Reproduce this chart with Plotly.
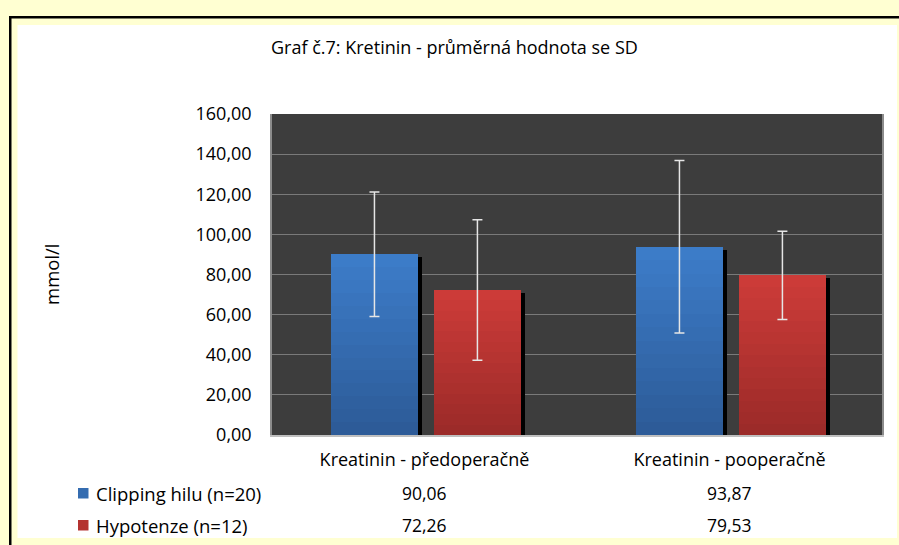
import plotly.graph_objects as go

# ---- data ----
categories = ["Kreatinin - předoperačně", "Kreatinin - pooperačně"]
series_names = ["Clipping hilu (n=20)", "Hypotenze (n=12)"]
clipping_mean = [90.06, 93.87]
clipping_sd = [31.0, 43.0]
hypotenze_mean = [72.26, 79.53]
hypotenze_sd = [35.0, 22.0]
y_ticks = [0, 20, 40, 60, 80, 100, 120, 140, 160]
title_text = "Graf č.7: Kretinin - průměrná hodnota se SD"
y_title = "mmol/l"

# ---- style ----
W, H = 899, 545
L, R, T, B = 272, 882, 114, 435   # plot area in pixels
FONT = "Open Sans"
blue_top, blue_bot = (61, 125, 202), (44, 90, 150)
red_top, red_bot = (206, 60, 57), (154, 42, 40)
BAR_W = 0.285
OFFS = [-0.3066, 0.031]
SHADOW_DX = 0.013
N_BANDS = 14


def px(x):
    return (x - L) / (R - L)


def py(y):
    return (B - y) / (B - T)


def mix(c1, c2, t):
    return "rgb(%d,%d,%d)" % tuple(round(a + (b - a) * t) for a, b in zip(c1, c2))


def fmt(v):
    return ("%.2f" % v).replace(".", ",")


fig = go.Figure()

series = [
    (clipping_mean, clipping_sd, blue_top, blue_bot),
    (hypotenze_mean, hypotenze_sd, red_top, red_bot),
]

for i, (means, sds, ctop, cbot) in enumerate(series):
    # shadow
    fig.add_trace(go.Bar(
        x=categories, y=[m - 1.5 for m in means], width=BAR_W,
        offset=OFFS[i] + SHADOW_DX, marker=dict(color="black", line=dict(width=0)),
        showlegend=False, hoverinfo="skip"))
    # gradient bands
    for k in range(N_BANDS):
        t = (k + 0.5) / N_BANDS
        base = [m * k / N_BANDS for m in means]
        h = [m / N_BANDS for m in means]
        fig.add_trace(go.Bar(
            x=categories, y=h, base=base, width=BAR_W, offset=OFFS[i],
            marker=dict(color=mix(cbot, ctop, t), line=dict(width=0)),
            showlegend=False, hoverinfo="skip"))

# error bars on a numeric overlaying axis for exact positioning
for i, (means, sds, ctop, cbot) in enumerate(series):
    xs = [j + OFFS[i] + BAR_W / 2 for j in range(len(categories))]
    fig.add_trace(go.Scatter(
        x=xs, y=means, mode="markers", xaxis="x2",
        marker=dict(size=1, color="rgba(0,0,0,0)"),
        error_y=dict(type="data", array=sds, visible=True, color="#E6E6E6",
                     thickness=1.5, width=5),
        showlegend=False, hoverinfo="skip"))

shapes = [
    # black frame (top & left)
    dict(type="rect", xref="paper", yref="paper", x0=px(9), x1=px(905), y0=py(16), y1=py(560),
         fillcolor="black", line=dict(width=0), layer="below"),
    dict(type="rect", xref="paper", yref="paper", x0=px(11.5), x1=px(905), y0=py(18.5), y1=py(560),
         fillcolor="#FFFFD2", line=dict(width=0), layer="below"),
    # white panel
    dict(type="rect", xref="paper", yref="paper", x0=px(17.5), x1=px(897), y0=py(25), y1=py(538),
         fillcolor="white", line=dict(width=0), layer="below"),
    # dark plot area
    dict(type="rect", xref="paper", yref="paper", x0=0, x1=1, y0=0, y1=1,
         fillcolor="#3D3D3D", line=dict(width=0), layer="below"),
]

# legend keys for data table
key_colors = [mix(blue_bot, blue_top, 0.5), mix(red_bot, red_top, 0.5)]
row_y = [493, 525]
for c, yy in zip(key_colors, row_y):
    shapes.append(dict(type="rect", xref="paper", yref="paper",
                       x0=px(78), x1=px(88.5), y0=py(yy - 5), y1=py(yy + 5.5),
                       fillcolor=c, line=dict(width=0)))

annotations = [
    dict(text=title_text, xref="paper", yref="paper", x=px(454), y=py(47),
         showarrow=False, font=dict(family=FONT, size=18, color="black"),
         xanchor="center", yanchor="middle"),
    dict(text=y_title, xref="paper", yref="paper", x=px(51), y=py(274),
         showarrow=False, textangle=-90, font=dict(family=FONT, size=18.5, color="black"),
         xanchor="center", yanchor="middle"),
]

all_means = [clipping_mean, hypotenze_mean]
for r, (name, means) in enumerate(zip(series_names, all_means)):
    annotations.append(dict(text=name, xref="paper", yref="paper", x=px(94), y=py(row_y[r]),
                            showarrow=False, font=dict(family=FONT, size=18.5, color="black"),
                            xanchor="left", yanchor="middle"))
    for j, m in enumerate(means):
        annotations.append(dict(text=fmt(m), x=categories[j], xref="x", yref="paper",
                                y=py(row_y[r]), showarrow=False,
                                font=dict(family=FONT, size=17.5, color="black"),
                                xanchor="center", yanchor="middle"))

fig.update_layout(
    width=W, height=H,
    margin=dict(l=L, r=W - R, t=T, b=H - B, pad=0),
    paper_bgcolor="#FFFFD2",
    plot_bgcolor="rgba(0,0,0,0)",
    barmode="overlay",
    bargap=0,
    showlegend=False,
    shapes=shapes,
    annotations=annotations,
    separators=", ",
    xaxis=dict(type="category", categoryorder="array", categoryarray=categories,
               range=[-0.5, 1.5], showgrid=False, zeroline=False,
               showline=True, linecolor="#BFBFBF", linewidth=1.5, mirror=False,
               ticks="", ticklabelstandoff=8,
               tickfont=dict(family=FONT, size=18, color="black")),
    xaxis2=dict(overlaying="x", range=[-0.5, 1.5], visible=False),
    yaxis=dict(range=[0, 160], tickvals=y_ticks, tickformat=".2f",
               showgrid=True, gridcolor="#7A7A7A", gridwidth=1.3,
               zeroline=False, showline=True, linecolor="#8C8C8C", linewidth=1.5,
               mirror=True, ticks="", ticklabelstandoff=15,
               tickfont=dict(family=FONT, size=18, color="black")),
)

fig.write_html("out.html",
               config={"displayModeBar": False},
               post_script="document.body.style.margin='0';document.body.style.overflow='hidden';")
